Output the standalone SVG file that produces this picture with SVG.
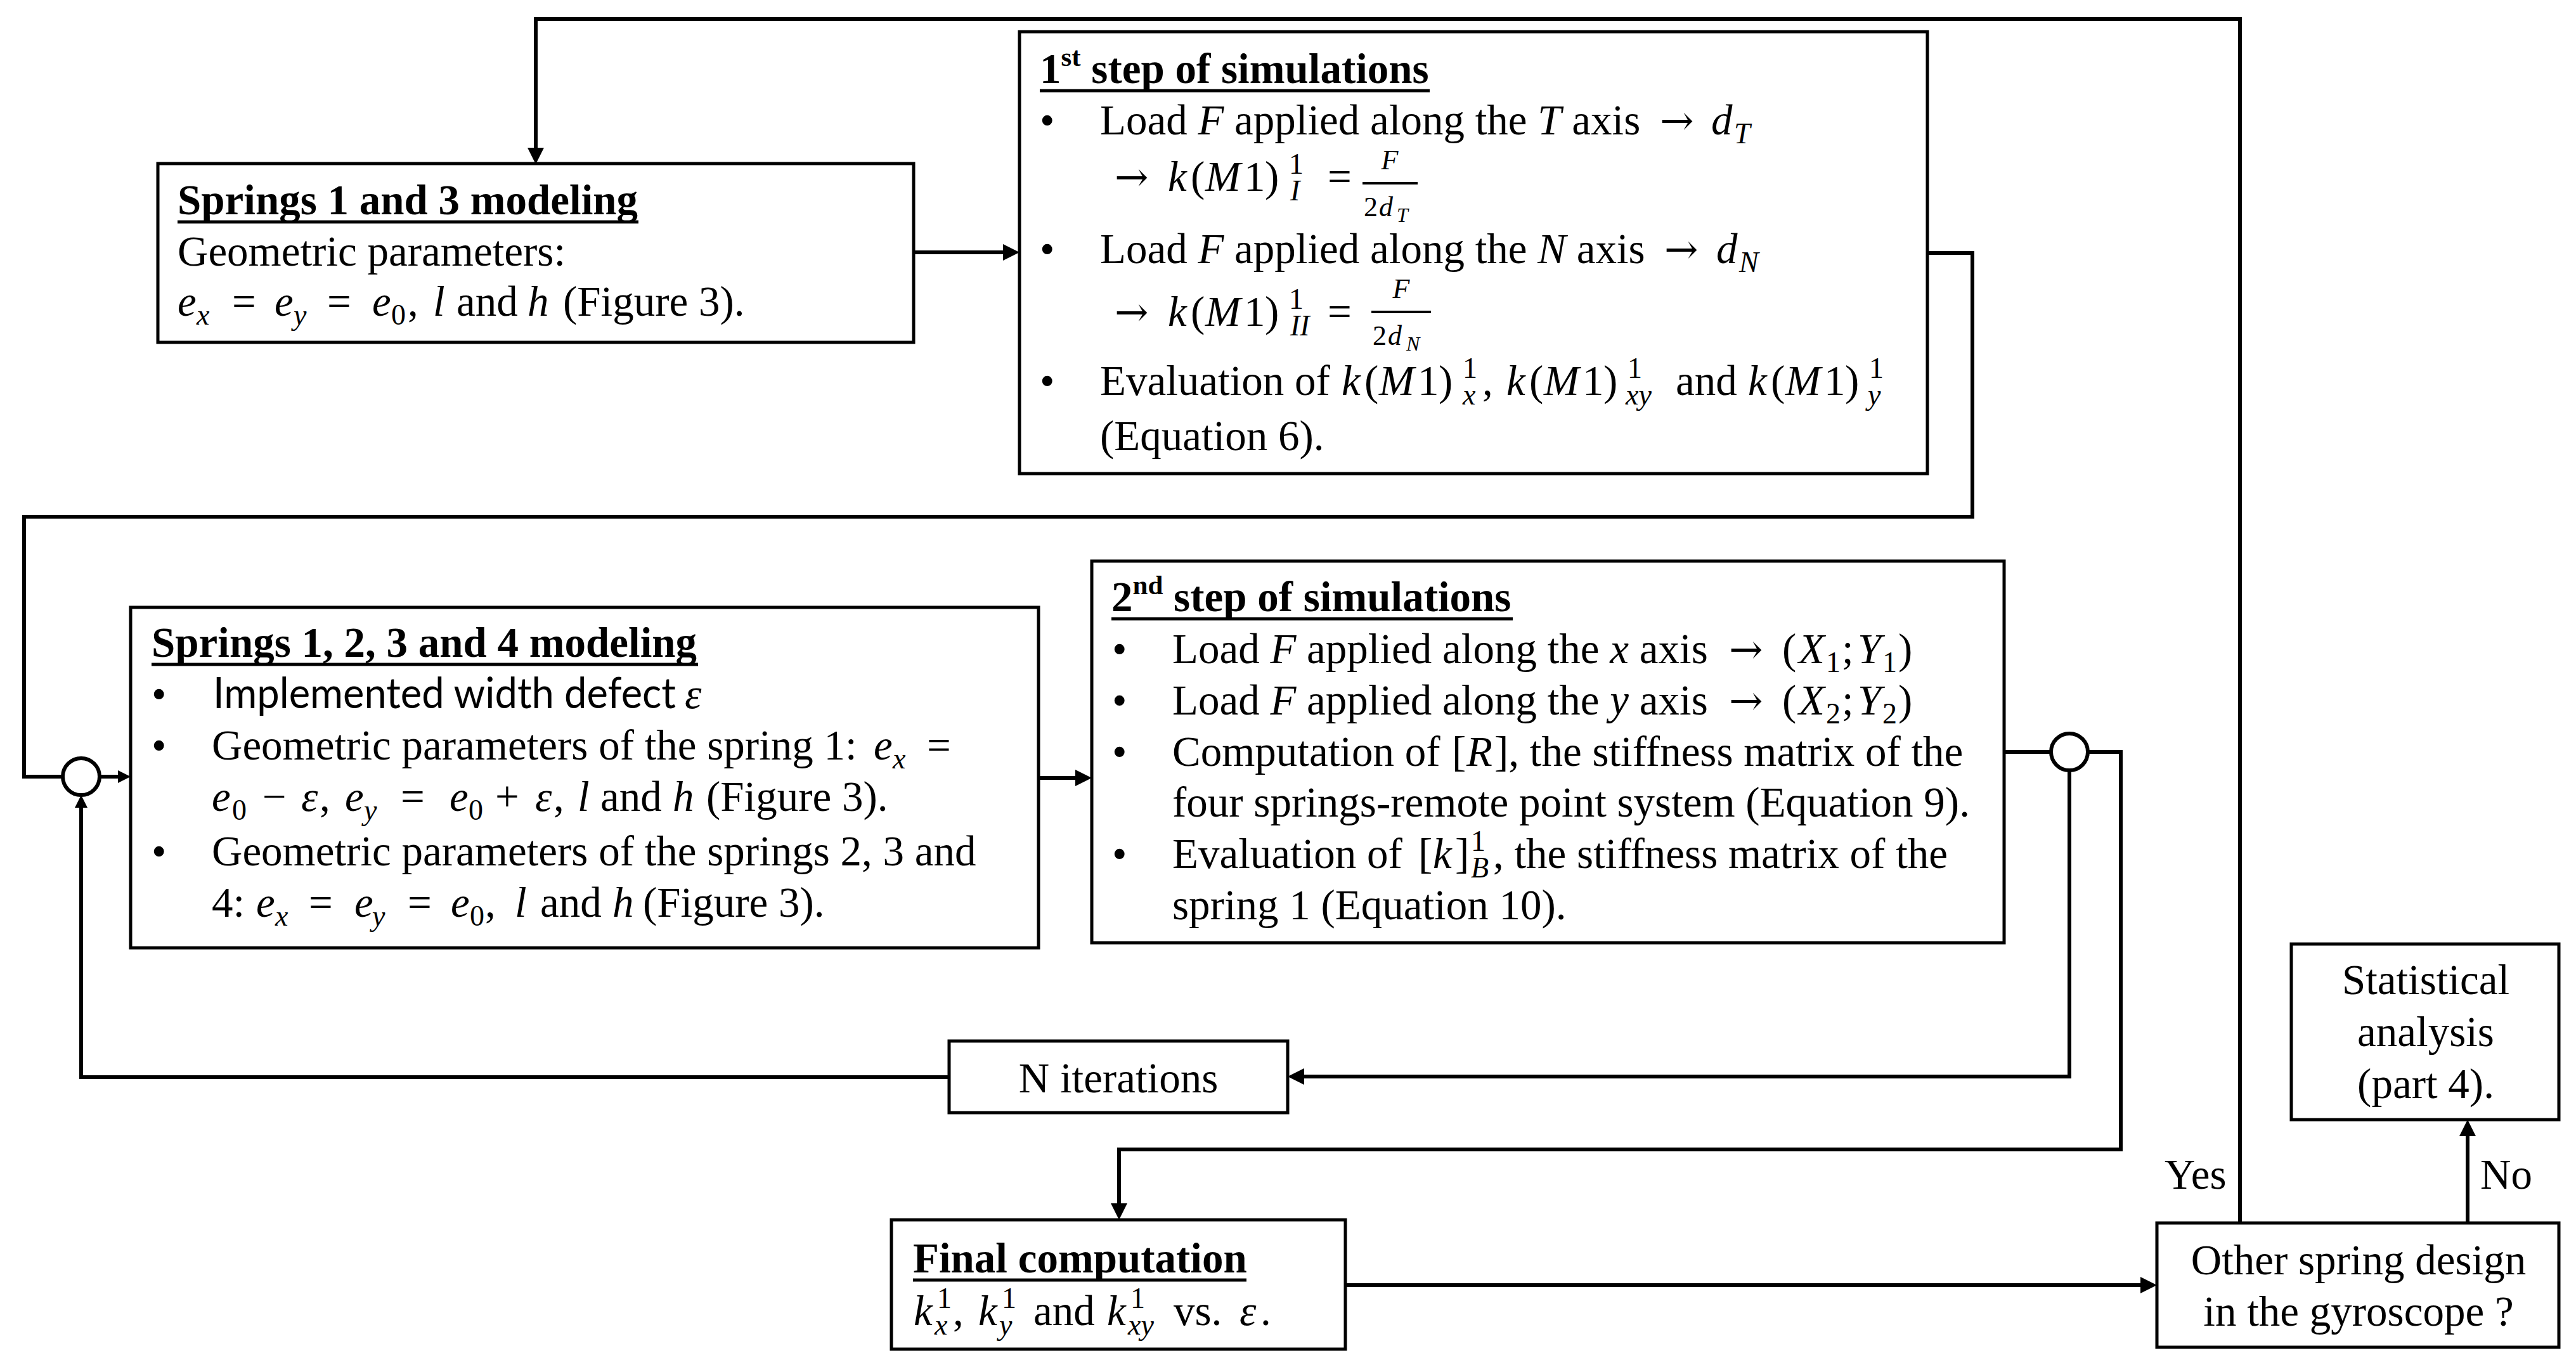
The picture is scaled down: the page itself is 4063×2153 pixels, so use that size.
<svg xmlns="http://www.w3.org/2000/svg" width="4063" height="2153" viewBox="0 0 4063 2153">
<style>
.box{fill:#fff;stroke:#000;stroke-width:5}
.conn{fill:none;stroke:#000;stroke-width:6}
.circ{fill:#fff;stroke:#000;stroke-width:6}
.ul{stroke:#000;stroke-width:5}
.bar{stroke:#000;stroke-width:4}
.t{font-family:"Liberation Serif","Times New Roman",serif;font-size:67px;fill:#000}
.b{font-weight:bold}
.i{font-style:italic}
.s{font-size:46px}
.f{font-size:44px}
.ss{font-size:32px}
.sp{font-size:43px}
.c{text-anchor:middle}
.ar{font-family:"DejaVu Serif",serif;font-size:64px}
.cal{font-family:Lato,"Open Sans",sans-serif;font-size:67px;fill:#000}
</style>
<defs>
<marker id="ah" markerUnits="userSpaceOnUse" markerWidth="28" markerHeight="28" refX="16" refY="13" orient="auto"><path d="M0,0 L26,13 L0,26 z" fill="#000"/></marker>
<marker id="as" markerUnits="userSpaceOnUse" markerWidth="22" markerHeight="22" refX="12" refY="10" orient="auto"><path d="M0,0 L20,10 L0,20 z" fill="#000"/></marker>
</defs>
<rect width="4063" height="2153" fill="#fff"/>

<g id="connectors">
<path class="conn" d="M3533,1929 V30 H845 V249" marker-end="url(#ah)"/>
<path class="conn" d="M1442,398 H1598" marker-end="url(#ah)"/>
<path class="conn" d="M3040,399 H3111 V815 H38 V1225 H99"/>
<path class="conn" d="M157,1225 H198" marker-end="url(#as)"/>
<path class="conn" d="M1497,1699 H128 V1262" marker-end="url(#as)"/>
<path class="conn" d="M1638,1227 H1712" marker-end="url(#ah)"/>
<path class="conn" d="M3161,1186 H3235"/>
<path class="conn" d="M3264,1215 V1698 H2041" marker-end="url(#ah)"/>
<path class="conn" d="M3293,1186 H3345 V1813 H1765 V1914" marker-end="url(#ah)"/>
<path class="conn" d="M2122,2027 H3392" marker-end="url(#ah)"/>
<path class="conn" d="M3892,1929 V1776" marker-end="url(#ah)"/>
<circle id="junction1" class="circ" cx="128" cy="1225" r="29"/>
<circle id="junction2" class="circ" cx="3264" cy="1186" r="29"/>
<text class="t" x="3414" y="1875">Yes</text>
<text class="t" x="3912" y="1875">No</text>
</g>

<g id="springs13">
<rect class="box" x="249" y="258" width="1192" height="282"/>
<text class="t b" x="280" y="338">Springs 1 and 3 modeling</text>
<line class="ul" x1="280" y1="350" x2="1007" y2="350"/>
<text class="t" x="280" y="419">Geometric parameters:</text>
<text class="t"><tspan class="i" x="280" y="498">e</tspan><tspan class="i s" x="310" y="512">x</tspan><tspan x="366" y="498">=</tspan><tspan class="i" x="433" y="498">e</tspan><tspan class="i s" x="463" y="512">y</tspan><tspan x="516" y="498">=</tspan><tspan class="i" x="587" y="498">e</tspan><tspan class="s" x="617" y="512">0</tspan><tspan x="643" y="498">,</tspan><tspan class="i" x="683" y="498">l</tspan><tspan x="720" y="498">and</tspan><tspan class="i" x="832" y="498">h</tspan><tspan x="888" y="498">(Figure 3).</tspan></text>
</g>

<g id="step1">
<rect class="box" x="1608" y="50" width="1432" height="697"/>
<text class="t b"><tspan x="1640" y="131">1</tspan><tspan class="sp" y="104">st</tspan><tspan y="131"> step of simulations</tspan></text>
<line class="ul" x1="1640" y1="143" x2="2255" y2="143"/>
<text class="t"><tspan x="1640" y="212">•</tspan><tspan x="1735" y="212">Load </tspan><tspan class="i">F</tspan><tspan> applied along the </tspan><tspan class="i">T</tspan><tspan> axis</tspan><tspan class="ar" x="2618" y="212">→</tspan><tspan class="i" x="2699" y="212">d</tspan><tspan class="i s" x="2735" y="226">T</tspan></text>
<text class="t"><tspan class="ar" x="1758" y="301">→</tspan><tspan class="i" x="1842" y="301">k</tspan><tspan x="1878" y="301">(</tspan><tspan class="i" x="1901" y="301">M</tspan><tspan x="1962" y="301">1</tspan><tspan x="1995" y="301">)</tspan><tspan class="s" x="2033" y="274">1</tspan><tspan class="i s" x="2035" y="316">I</tspan><tspan x="2094" y="301">=</tspan></text>
<line class="bar" x1="2149" y1="289" x2="2236" y2="289"/>
<text class="t i f c" x="2192" y="267">F</text>
<text class="t f"><tspan x="2151" y="341">2</tspan><tspan class="i" x="2175" y="341">d</tspan><tspan class="i ss" x="2203" y="350">T</tspan></text>
<text class="t"><tspan x="1640" y="415">•</tspan><tspan x="1735" y="415">Load </tspan><tspan class="i">F</tspan><tspan> applied along the </tspan><tspan class="i">N</tspan><tspan> axis</tspan><tspan class="ar" x="2625" y="415">→</tspan><tspan class="i" x="2707" y="415">d</tspan><tspan class="i s" x="2743" y="429">N</tspan></text>
<text class="t"><tspan class="ar" x="1758" y="514">→</tspan><tspan class="i" x="1842" y="514">k</tspan><tspan x="1878" y="514">(</tspan><tspan class="i" x="1901" y="514">M</tspan><tspan x="1962" y="514">1</tspan><tspan x="1995" y="514">)</tspan><tspan class="s" x="2033" y="487">1</tspan><tspan class="i s" x="2035" y="529">II</tspan><tspan x="2094" y="514">=</tspan></text>
<line class="bar" x1="2163" y1="492" x2="2257" y2="492"/>
<text class="t i f c" x="2210" y="470">F</text>
<text class="t f"><tspan x="2165" y="544">2</tspan><tspan class="i" x="2189" y="544">d</tspan><tspan class="i ss" x="2218" y="553">N</tspan></text>
<text class="t"><tspan x="1640" y="623">•</tspan><tspan x="1735" y="623">Evaluation of</tspan><tspan class="i" x="2116" y="623">k</tspan><tspan x="2152" y="623">(</tspan><tspan class="i" x="2175" y="623">M</tspan><tspan x="2236" y="623">1</tspan><tspan x="2269" y="623">)</tspan><tspan class="s" x="2307" y="596">1</tspan><tspan class="i s" x="2307" y="638">x</tspan><tspan x="2338" y="623">,</tspan><tspan class="i" x="2376" y="623">k</tspan><tspan x="2412" y="623">(</tspan><tspan class="i" x="2435" y="623">M</tspan><tspan x="2496" y="623">1</tspan><tspan x="2529" y="623">)</tspan><tspan class="s" x="2567" y="596">1</tspan><tspan class="i s" x="2564" y="638">xy</tspan><tspan x="2643" y="623">and</tspan><tspan class="i" x="2757" y="623">k</tspan><tspan x="2793" y="623">(</tspan><tspan class="i" x="2816" y="623">M</tspan><tspan x="2877" y="623">1</tspan><tspan x="2910" y="623">)</tspan><tspan class="s" x="2948" y="596">1</tspan><tspan class="i s" x="2946" y="638">y</tspan></text>
<text class="t" x="1735" y="710">(Equation 6).</text>
</g>

<g id="springs1234">
<rect class="box" x="206" y="958" width="1432" height="537"/>
<text class="t b" x="239" y="1036">Springs 1, 2, 3 and 4 modeling</text>
<line class="ul" x1="239" y1="1048" x2="1101" y2="1048"/>
<text class="t" x="239" y="1117">•</text>
<text class="cal" x="336" y="1117" textLength="730" lengthAdjust="spacingAndGlyphs">Implemented width defect</text>
<text class="t i" x="1080" y="1117">ε</text>
<text class="t"><tspan x="239" y="1198">•</tspan><tspan x="334" y="1198">Geometric parameters of the spring 1:</tspan><tspan class="i" x="1378" y="1198">e</tspan><tspan class="i s" x="1408" y="1212">x</tspan><tspan x="1462" y="1198">=</tspan></text>
<text class="t"><tspan class="i" x="334" y="1279">e</tspan><tspan class="s" x="366" y="1293">0</tspan><tspan x="414" y="1279">−</tspan><tspan class="i" x="475" y="1279">ε</tspan><tspan x="504" y="1279">,</tspan><tspan class="i" x="544" y="1279">e</tspan><tspan class="i s" x="574" y="1293">y</tspan><tspan x="632" y="1279">=</tspan><tspan class="i" x="709" y="1279">e</tspan><tspan class="s" x="739" y="1293">0</tspan><tspan x="781" y="1279">+</tspan><tspan class="i" x="844" y="1279">ε</tspan><tspan x="873" y="1279">,</tspan><tspan class="i" x="911" y="1279">l</tspan><tspan x="947" y="1279">and</tspan><tspan class="i" x="1061" y="1279">h</tspan><tspan x="1114" y="1279">(Figure 3).</tspan></text>
<text class="t"><tspan x="239" y="1365">•</tspan><tspan x="334" y="1365">Geometric parameters of the springs 2, 3 and</tspan></text>
<text class="t"><tspan x="334" y="1446">4:</tspan><tspan class="i" x="404" y="1446">e</tspan><tspan class="i s" x="434" y="1460">x</tspan><tspan x="487" y="1446">=</tspan><tspan class="i" x="559" y="1446">e</tspan><tspan class="i s" x="587" y="1460">y</tspan><tspan x="643" y="1446">=</tspan><tspan class="i" x="711" y="1446">e</tspan><tspan class="s" x="741" y="1460">0</tspan><tspan x="765" y="1446">,</tspan><tspan class="i" x="812" y="1446">l</tspan><tspan x="852" y="1446">and</tspan><tspan class="i" x="966" y="1446">h</tspan><tspan x="1014" y="1446">(Figure 3).</tspan></text>
</g>

<g id="step2">
<rect class="box" x="1722" y="885" width="1439" height="602"/>
<text class="t b"><tspan x="1753" y="964">2</tspan><tspan class="sp" y="937">nd</tspan><tspan y="964"> step of simulations</tspan></text>
<line class="ul" x1="1753" y1="976" x2="2386" y2="976"/>
<text class="t"><tspan x="1754" y="1046">•</tspan><tspan x="1849" y="1046">Load </tspan><tspan class="i">F</tspan><tspan> applied along the </tspan><tspan class="i">x</tspan><tspan> axis</tspan><tspan class="ar" x="2727" y="1046">→</tspan><tspan x="2811" y="1046">(</tspan><tspan class="i" x="2837" y="1046">X</tspan><tspan class="s" x="2880" y="1060">1</tspan><tspan x="2905" y="1046">;</tspan><tspan class="i" x="2930" y="1046">Y</tspan><tspan class="s" x="2969" y="1060">1</tspan><tspan x="2994" y="1046">)</tspan></text>
<text class="t"><tspan x="1754" y="1127">•</tspan><tspan x="1849" y="1127">Load </tspan><tspan class="i">F</tspan><tspan> applied along the </tspan><tspan class="i">y</tspan><tspan> axis</tspan><tspan class="ar" x="2727" y="1127">→</tspan><tspan x="2811" y="1127">(</tspan><tspan class="i" x="2837" y="1127">X</tspan><tspan class="s" x="2880" y="1141">2</tspan><tspan x="2905" y="1127">;</tspan><tspan class="i" x="2930" y="1127">Y</tspan><tspan class="s" x="2969" y="1141">2</tspan><tspan x="2994" y="1127">)</tspan></text>
<text class="t"><tspan x="1754" y="1208">•</tspan><tspan x="1849" y="1208">Computation of</tspan><tspan x="2290" y="1208">[</tspan><tspan class="i" x="2313" y="1208">R</tspan><tspan x="2357" y="1208">], the stiffness matrix of the</tspan></text>
<text class="t" x="1849" y="1288">four springs-remote point system (Equation 9).</text>
<text class="t"><tspan x="1754" y="1369">•</tspan><tspan x="1849" y="1369">Evaluation of</tspan><tspan x="2237" y="1369">[</tspan><tspan class="i" x="2260" y="1369">k</tspan><tspan x="2295" y="1369">]</tspan><tspan class="s" x="2320" y="1342">1</tspan><tspan class="i s" x="2320" y="1384">B</tspan><tspan x="2355" y="1369">, the stiffness matrix of the</tspan></text>
<text class="t" x="1849" y="1450">spring 1 (Equation 10).</text>
</g>

<g id="niterations">
<rect class="box" x="1497" y="1642" width="534" height="113"/>
<text class="t c" x="1764" y="1723">N iterations</text>
</g>

<g id="final">
<rect class="box" x="1406" y="1924" width="716" height="204"/>
<text class="t b" x="1440" y="2007">Final computation</text>
<line class="ul" x1="1440" y1="2019" x2="1966" y2="2019"/>
<text class="t"><tspan class="i" x="1441" y="2090">k</tspan><tspan class="s" x="1478" y="2063">1</tspan><tspan class="i s" x="1474" y="2105">x</tspan><tspan x="1503" y="2090">,</tspan><tspan class="i" x="1543" y="2090">k</tspan><tspan class="s" x="1580" y="2063">1</tspan><tspan class="i s" x="1576" y="2105">y</tspan><tspan x="1630" y="2090">and</tspan><tspan class="i" x="1746" y="2090">k</tspan><tspan class="s" x="1783" y="2063">1</tspan><tspan class="i s" x="1779" y="2105">xy</tspan><tspan x="1851" y="2090">vs.</tspan><tspan class="i" x="1955" y="2090">ε</tspan><tspan x="1988" y="2090">.</tspan></text>
</g>

<g id="other">
<rect class="box" x="3402" y="1929" width="634" height="196"/>
<text class="t c" x="3720" y="2010">Other spring design</text>
<text class="t c" x="3720" y="2091">in the gyroscope ?</text>
</g>

<g id="statistical">
<rect class="box" x="3614" y="1489" width="422" height="277"/>
<text class="t c" x="3826" y="1568">Statistical</text>
<text class="t c" x="3826" y="1650">analysis</text>
<text class="t c" x="3826" y="1732">(part 4).</text>
</g>
</svg>
